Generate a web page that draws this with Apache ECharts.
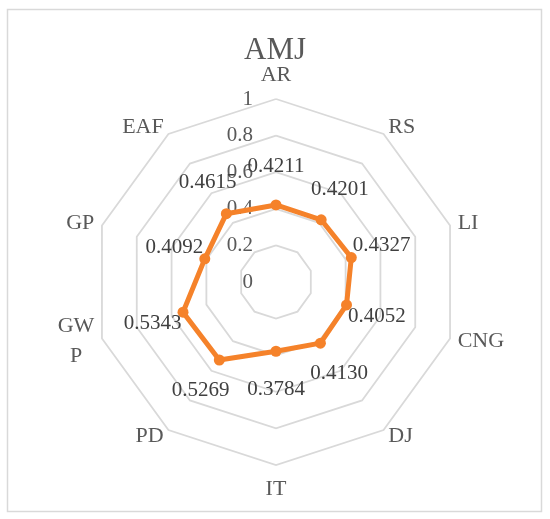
<!DOCTYPE html>
<html>
<head>
<meta charset="utf-8">
<script src="https://cdn.jsdelivr.net/npm/echarts@6/dist/echarts.min.js"></script>
<style>
  html, body { margin: 0; padding: 0; background: #fff; }
  #chart { width: 550px; height: 519px; }
</style>
</head>
<body>
<div id="chart"></div>
<script>
// data, clockwise from the top as in the picture
const categories = ['AR', 'RS', 'LI', 'CNG', 'DJ', 'IT', 'PD', 'GWP', 'GP', 'EAF']
const amjValues = [0.4211, 0.4201, 0.4327, 0.4052, 0.4130, 0.3784, 0.5269, 0.5343, 0.4092, 0.4615]
const axisMax = 1

// echarts walks the indicators counter-clockwise, so flip everything after the first
const ccw = (arr) => [arr[0]].concat(arr.slice(1).reverse())

const CX = 276
const CY = 282
const font = 'Liberation Serif, Times New Roman, serif'

const chart = echarts.init(document.getElementById('chart'))

const indicator = ccw(categories).map((name, i) => {
  const item = { name: name, min: 0, max: axisMax }
  // tick labels only on the first (top) axis
  if (i === 0) item.axisLabel = { show: true }
  return item
})

chart.setOption({
  animation: false,
  title: {
    text: 'AMJ',
    left: 'center',
    top: 30,
    textStyle: { fontFamily: font, fontSize: 31, fontWeight: 'normal', color: '#595959' }
  },
  graphic: [
    {
      type: 'rect',
      shape: { x: 7.5, y: 9.5, width: 534, height: 502 },
      style: { fill: 'none', stroke: '#d9d9d9', lineWidth: 1.5 },
      silent: true
    }
  ],
  radar: {
    center: [CX, CY],
    radius: 183,
    startAngle: 90,
    shape: 'polygon',
    splitNumber: 5,
    indicator: indicator,
    nameGap: 8,
    axisName: {
      color: '#595959',
      fontFamily: font,
      fontSize: 22,
      padding: [5, 0, 5, 0],
      formatter: (name) => (name === 'GWP' ? '{c|GW}\n{c|P}' : name),
      rich: {
        c: { align: 'center', fontFamily: font, fontSize: 22, color: '#595959', lineHeight: 30 }
      }
    },
    axisLine: { show: false },
    axisTick: { show: false },
    axisLabel: {
      show: false,
      color: '#595959',
      fontFamily: font,
      fontSize: 21,
      align: 'right',
      verticalAlign: 'middle',
      margin: 23
    },
    splitLine: { lineStyle: { color: '#d9d9d9', width: 1.8 } },
    splitArea: { show: false }
  },
  series: [
    {
      type: 'radar',
      symbol: 'circle',
      symbolSize: 11,
      lineStyle: { color: '#f5822a', width: 5 },
      itemStyle: { color: '#f5822a' },
      label: {
        show: true,
        position: 'inside',
        color: '#404040',
        fontFamily: font,
        fontSize: 21,
        formatter: (p) => Number(p.value).toFixed(4)
      },
      // push each value label outwards from the centre
      labelLayout: (params) => {
        const r = params.rect
        const px = r.x + r.width / 2
        const py = r.y + r.height / 2
        const dx = px - CX
        const dy = py - CY
        const len = Math.hypot(dx, dy) || 1
        return {
          x: px + (dx / len) * 32,
          y: py + (dy / len) * 38,
          align: 'center',
          verticalAlign: 'middle'
        }
      },
      data: [{ name: 'AMJ', value: ccw(amjValues) }]
    }
  ]
})
</script>
</body>
</html>
